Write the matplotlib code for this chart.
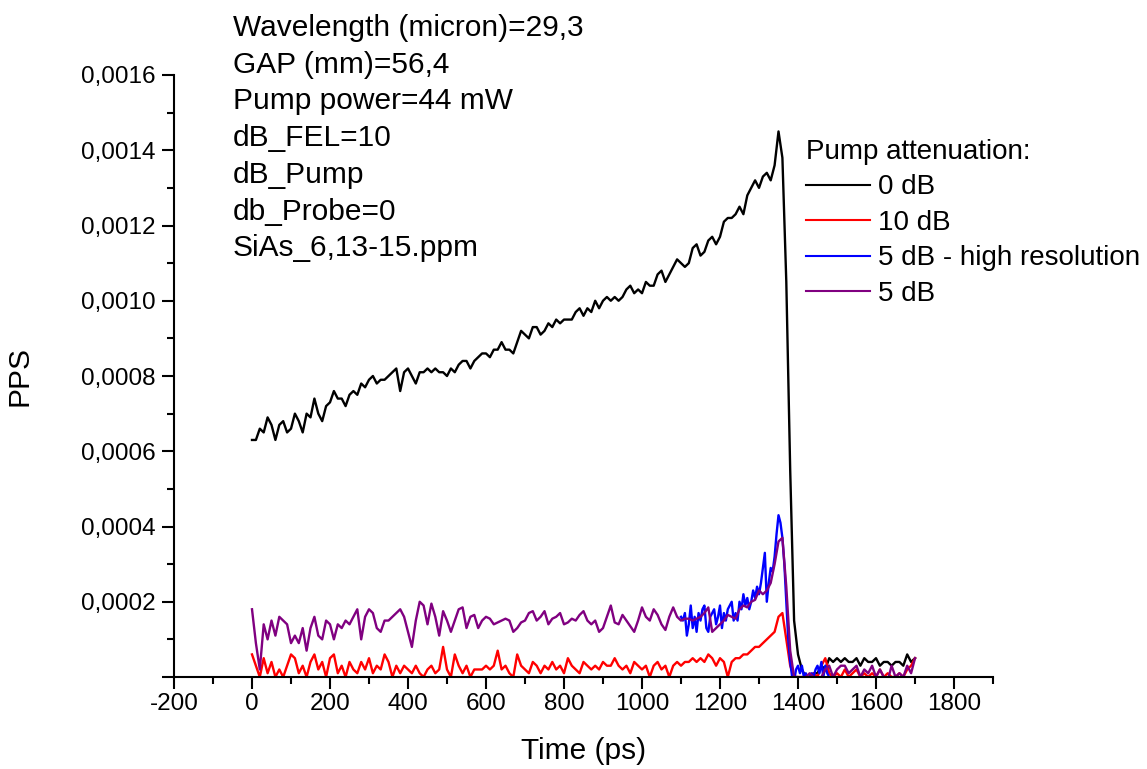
import numpy as np
import matplotlib
matplotlib.use("Agg")
import matplotlib.pyplot as plt
from matplotlib.ticker import MultipleLocator, FuncFormatter

# ========== Data (PPS values in units of 1e-4) ==========
PPS_UNIT = 1e-4

# 10 ps sampling, 0 .. 1700 ps
t_main = np.arange(0, 1701, 10)

pps_0db = [
    6.3, 6.3, 6.6, 6.5, 6.9, 6.7, 6.3, 6.7, 6.8, 6.5,
    6.6, 7.0, 6.8, 6.5, 7.0, 6.9, 7.4, 7.0, 6.8, 7.2,
    7.3, 7.6, 7.4, 7.4, 7.2, 7.5, 7.6, 7.5, 7.8, 7.7,
    7.9, 8.0, 7.8, 7.9, 7.9, 8.0, 8.1, 8.2, 7.6, 8.1,
    8.2, 8.0, 7.8, 8.1, 8.1, 8.2, 8.1, 8.2, 8.1, 8.1,
    8.0, 8.2, 8.1, 8.3, 8.4, 8.4, 8.2, 8.4, 8.5, 8.6,
    8.6, 8.5, 8.7, 8.7, 8.9, 8.7, 8.7, 8.6, 8.9, 9.2,
    9.1, 9.0, 9.3, 9.3, 9.1, 9.2, 9.4, 9.3, 9.5, 9.4,
    9.5, 9.5, 9.5, 9.7, 9.8, 9.6, 9.8, 9.7, 10.0, 9.8,
    10.0, 10.1, 10.0, 10.1, 10.0, 10.1, 10.3, 10.4, 10.2, 10.3,
    10.2, 10.5, 10.4, 10.4, 10.7, 10.8, 10.5, 10.7, 10.9, 11.1,
    11.0, 10.9, 11.0, 11.4, 11.5, 11.2, 11.3, 11.6, 11.7, 11.5,
    11.7, 12.1, 12.2, 12.2, 12.3, 12.5, 12.3, 12.8, 13.0, 13.2,
    13.0, 13.3, 13.4, 13.2, 13.6, 14.5, 13.8, 10.5, 5.5, 1.5,
    0.6, 0.2, 0.0, 0.0, 0.1, 0.1, 0.3, 0.2, 0.5, 0.4,
    0.5, 0.4, 0.5, 0.4, 0.4, 0.5, 0.3, 0.5, 0.4, 0.4,
    0.5, 0.3, 0.4, 0.4, 0.3, 0.4, 0.4, 0.3, 0.6, 0.4,
    0.5,
]

pps_10db = [
    0.6, 0.3, 0.0, 0.5, 0.1, 0.4, 0.0, 0.2, 0.0, 0.3,
    0.6, 0.5, 0.1, 0.3, 0.0, 0.4, 0.6, 0.2, 0.4, 0.0,
    0.5, 0.6, 0.1, 0.3, 0.0, 0.4, 0.2, 0.1, 0.4, 0.2,
    0.5, 0.1, 0.3, 0.2, 0.6, 0.4, 0.0, 0.3, 0.1, 0.3,
    0.2, 0.1, 0.3, 0.1, 0.0, 0.2, 0.3, 0.1, 0.2, 0.8,
    0.2, 0.0, 0.6, 0.3, 0.1, 0.3, 0.0, 0.2, 0.2, 0.2,
    0.3, 0.2, 0.3, 0.7, 0.2, 0.3, 0.1, 0.0, 0.6, 0.3,
    0.2, 0.1, 0.4, 0.3, 0.1, 0.3, 0.2, 0.4, 0.2, 0.3,
    0.1, 0.5, 0.3, 0.2, 0.1, 0.4, 0.3, 0.2, 0.3, 0.2,
    0.4, 0.3, 0.3, 0.5, 0.3, 0.2, 0.3, 0.1, 0.4, 0.3,
    0.2, 0.3, 0.0, 0.3, 0.4, 0.2, 0.3, 0.0, 0.3, 0.4,
    0.3, 0.4, 0.4, 0.5, 0.4, 0.5, 0.4, 0.6, 0.5, 0.3,
    0.5, 0.4, 0.0, 0.4, 0.5, 0.5, 0.6, 0.6, 0.7, 0.8,
    0.8, 0.9, 1.0, 1.1, 1.2, 1.6, 1.7, 1.0, 0.3, 0.0,
    0.0, 0.0, -0.1, 0.0, 0.1, 0.0, 0.3, 0.5, 0.1, 0.0,
    0.1, 0.0, 0.2, 0.0, 0.1, 0.2, 0.0, 0.1, 0.0, 0.1,
    0.0, 0.2, 0.0, 0.1, 0.0, 0.0, 0.1, 0.0, 0.2, 0.3,
    0.5,
]

pps_5db = [
    1.8, 0.9, 0.2, 1.4, 1.0, 1.5, 1.1, 1.6, 1.5, 1.4,
    0.9, 1.1, 0.9, 1.3, 0.7, 1.3, 1.6, 1.1, 1.0, 1.5,
    1.4, 1.0, 1.4, 1.3, 1.5, 1.4, 1.6, 1.8, 1.0, 1.6,
    1.8, 1.7, 1.3, 1.2, 1.5, 1.5, 1.6, 1.7, 1.8, 1.6,
    1.2, 0.8, 1.5, 2.0, 1.9, 1.4, 1.95, 1.6, 1.1, 1.75,
    1.5, 1.2, 1.5, 1.8, 1.85, 1.3, 1.6, 1.65, 1.3, 1.5,
    1.6, 1.55, 1.4, 1.45, 1.5, 1.55, 1.5, 1.2, 1.3, 1.45,
    1.5, 1.7, 1.75, 1.5, 1.6, 1.75, 1.4, 1.55, 1.6, 1.7,
    1.4, 1.45, 1.55, 1.5, 1.65, 1.75, 1.5, 1.4, 1.5, 1.2,
    1.3, 1.6, 1.9, 1.45, 1.4, 1.65, 1.5, 1.35, 1.2, 1.5,
    1.85, 1.6, 1.5, 1.8, 1.65, 1.4, 1.25, 1.6, 1.85, 1.6,
    1.5, 1.55, 1.55, 1.5, 1.55, 1.6, 1.7, 1.85, 1.2, 1.3,
    1.4, 1.5, 1.65, 1.6, 1.55, 1.8, 1.9, 1.85, 2.0, 2.05,
    2.3, 2.2, 2.3, 2.5, 3.0, 3.6, 3.7, 2.4, 0.7, 0.0,
    0.0, -0.1, 0.0, 0.1, 0.0, -0.1, 0.0, 0.2, 0.3, 0.0,
    0.2, 0.3, 0.3, 0.1, 0.2, 0.3, 0.0, 0.2, 0.1, 0.3,
    0.0, 0.2, 0.0, -0.1, 0.3, 0.0, 0.1, 0.0, 0.3, 0.1,
    0.5,
]

# high resolution scan: 5 ps sampling, 1100 .. 1480 ps
t_hires = np.arange(1100, 1481, 5)

pps_5db_hires = [
    1.6, 1.5, 1.7, 1.1, 1.4, 1.9, 1.3, 1.6, 1.2, 1.7,
    1.5, 1.8, 1.9, 1.3, 1.2, 1.6, 1.7, 1.8, 1.4, 1.6,
    1.9, 1.3, 1.7, 1.5, 1.8, 1.9, 2.0, 1.5, 1.7, 1.5,
    2.0, 1.8, 2.2, 1.9, 2.1, 1.8, 2.0, 2.3, 2.1, 2.4,
    2.2, 2.5, 2.9, 3.3, 2.0, 2.5, 2.9, 2.8, 3.2, 3.8,
    4.3, 4.1, 3.7, 3.0, 2.0, 1.0, 0.4, 0.0, -0.1, 0.2,
    0.3, 0.1, 0.3, 0.0, 0.1, -0.1, 0.0, 0.1, 0.0, 0.2,
    0.3, 0.1, 0.4, 0.0, 0.3, 0.1, 0.0,
]

info_lines = [
    "Wavelength (micron)=29,3",
    "GAP (mm)=56,4",
    "Pump power=44 mW",
    "dB_FEL=10",
    "dB_Pump",
    "db_Probe=0",
    "SiAs_6,13-15.ppm",
]

# ========== Style ==========
plt.rcParams["font.family"] = ["Liberation Sans", "DejaVu Sans"]
plt.rcParams["axes.unicode_minus"] = False
W, H = 1147, 769
LW = 1.7


def comma_fmt(v, pos):
    if abs(v) < 1e-12:
        return ""
    return f"{v:.4f}".replace(".", ",")


fig = plt.figure(figsize=(W / 100, H / 100), dpi=100)
ax = fig.add_axes([174 / W, 1 - 677 / H, (993 - 174) / W, (677 - 75) / H])

ax.plot(t_main, np.array(pps_0db) * PPS_UNIT, color="black", lw=LW, label="0 dB")
ax.plot(t_main, np.array(pps_10db) * PPS_UNIT, color="#ff0000", lw=LW, label="10 dB")
ax.plot(t_hires, np.array(pps_5db_hires) * PPS_UNIT, color="#0000ff", lw=LW,
        label="5 dB - high resolution")
ax.plot(t_main, np.array(pps_5db) * PPS_UNIT, color="#800080", lw=LW, label="5 dB")

ax.set_xlim(-200, 1900)
ax.set_ylim(0, 0.0016)
ax.xaxis.set_major_locator(MultipleLocator(200))
ax.xaxis.set_minor_locator(MultipleLocator(100))
ax.yaxis.set_major_locator(MultipleLocator(0.0002))
ax.yaxis.set_minor_locator(MultipleLocator(0.0001))
ax.yaxis.set_major_formatter(FuncFormatter(comma_fmt))

for side in ("top", "right"):
    ax.spines[side].set_visible(False)
for side in ("left", "bottom"):
    ax.spines[side].set_linewidth(1.5)

ax.tick_params(which="major", direction="out", length=8.3, width=1.5, labelsize=17.5)
ax.tick_params(which="minor", direction="out", length=4.8, width=1.5)
ax.tick_params(axis="y", which="major", pad=5)
ax.tick_params(axis="x", which="major", pad=3)

ax.set_xlabel("Time (ps)", fontsize=21.5)
ax.set_ylabel("PPS", fontsize=21.5)
ax.xaxis.set_label_coords(0.5, -0.10)
ax.yaxis.set_label_coords(-0.172, 0.50)

# info block
for i, line in enumerate(info_lines):
    fig.text(233 / W, 1 - (28 + i * 36.7) / H, line, fontsize=21.5, va="center", ha="left")

leg = ax.legend(title="Pump attenuation:", loc="upper left",
                bbox_to_anchor=(806 / W, 1 - 139 / H), bbox_transform=fig.transFigure,
                frameon=False, fontsize=20, title_fontsize=20, handlelength=2.3,
                handletextpad=0.28, labelspacing=0.34, borderpad=0, borderaxespad=0,
                alignment="left")
for h in leg.get_lines():
    h.set_linewidth(1.5)

fig.savefig("out.png", dpi=100)
